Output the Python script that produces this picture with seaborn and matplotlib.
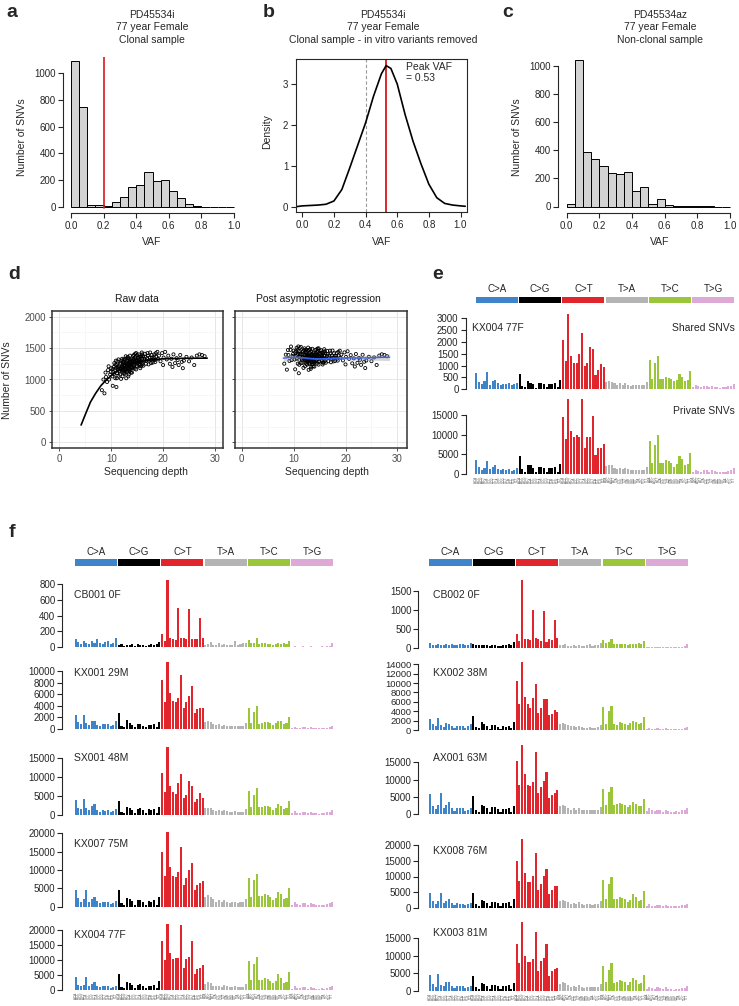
import numpy as np
import pandas as pd
import matplotlib
matplotlib.use('Agg')
import matplotlib.pyplot as plt
import seaborn as sns

W, H = 739, 1006

# ---------------- data ----------------
vaf_edges = [round(0.05 * i, 2) for i in range(21)]
counts_a = [1090, 745, 15, 12, 10, 35, 75, 148, 165, 262, 192, 205, 120, 70, 25, 6, 3, 2, 1, 0]
counts_c = [20, 1040, 390, 335, 290, 237, 233, 242, 110, 140, 20, 50, 10, 6, 4, 3, 2, 1, 0, 0]
clonal_cutoff = 0.2

dens_x = [-0.04, 0.0, 0.05, 0.1, 0.15, 0.2, 0.25, 0.3, 0.35, 0.4, 0.45, 0.5, 0.53, 0.56,
          0.6, 0.65, 0.7, 0.75, 0.8, 0.85, 0.9, 0.95, 1.0, 1.03]
dens_y = [0.0, 0.02, 0.03, 0.04, 0.06, 0.14, 0.42, 0.95, 1.5, 2.05, 2.7, 3.25, 3.45, 3.38,
          3.0, 2.25, 1.6, 1.05, 0.55, 0.22, 0.08, 0.04, 0.02, 0.01]
peak_vaf = 0.53
dashed_vaf = 0.4

depth_raw = [8.2, 8.7, 9.0, 8.9, 9.4, 9.6, 10.3, 11.0, 9.8, 9.2, 10.0, 8.5, 9.9, 9.5,
             10.2, 10.4, 10.5, 10.6, 10.7, 10.8, 10.9, 11.0, 11.1, 11.2, 11.3, 11.4, 11.5, 11.6, 11.7, 11.8,
             11.9, 12.0, 10.3, 10.6, 10.9, 11.2, 11.5, 11.8, 11.1, 11.4, 11.7, 10.8, 11.3, 11.9,
             12.1, 12.2, 12.3, 12.4, 12.5, 12.6, 12.7, 12.8, 12.9, 13.0, 13.1, 13.2, 13.3, 13.4, 13.5, 13.6,
             13.7, 13.8, 13.9, 14.0, 12.1, 12.2, 12.3, 12.4, 12.5, 12.6, 12.7, 12.8, 12.9, 13.0, 13.1, 13.2,
             13.3, 13.4, 13.5, 13.6, 13.7, 13.8, 13.9, 14.0, 12.2, 12.4, 12.6, 12.8, 13.0, 13.2, 13.4, 13.6,
             13.8, 14.0, 12.3, 12.5, 12.7, 12.9, 13.1, 13.3, 13.5, 13.7, 13.9, 12.0,
             14.1, 14.2, 14.3, 14.4, 14.5, 14.6, 14.7, 14.8, 14.9, 15.0, 15.1, 15.2, 15.3, 15.4, 15.5, 15.6,
             15.7, 15.8, 15.9, 16.0, 14.1, 14.3, 14.5, 14.7, 14.9, 15.1, 15.3, 15.5, 15.7, 15.9, 14.2, 14.4,
             14.6, 14.8, 15.0, 15.2, 15.4, 15.6, 15.8, 16.0, 14.6, 15.0, 15.4, 14.4, 15.8,
             16.1, 16.3, 16.5, 16.7, 16.9, 17.1, 17.3, 17.5, 17.7, 17.9, 18.1, 18.3, 18.5, 18.7, 18.9, 16.2,
             16.4, 16.6, 16.8, 17.0, 17.2, 17.4, 17.6, 17.8, 18.0, 18.2, 18.4, 18.6, 19.0, 16.0,
             19.2, 19.5, 19.8, 20.1, 20.4, 20.7, 21.0, 21.3, 21.6, 22.0, 22.3, 22.6, 23.0, 23.3, 23.6, 24.0,
             24.5, 25.0, 25.5, 26.0, 26.5, 27.0, 27.5, 28.0, 20.0, 21.8, 23.8, 22.8]
snv_raw = [830, 780, 1040, 1110, 1150, 1000, 900, 880, 1080, 960, 1180, 1000, 1120, 1210,
           1050, 1120, 1200, 1260, 1150, 1020, 1180, 1230, 1100, 1290, 1160, 1060, 1210, 1130, 1250, 1180,
           1010, 1300, 1170, 1090, 1300, 1200, 1140, 1270, 1020, 1320, 1080, 1240, 1190, 1160,
           1200, 1050, 1280, 1150, 1230, 1090, 1320, 1180, 1020, 1250, 1130, 1360, 1210, 1080, 1290, 1170,
           1240, 1110, 1330, 1190, 1330, 1140, 1190, 1260, 1100, 1220, 1160, 1370, 1240, 1120, 1300, 1180,
           1050, 1270, 1220, 1380, 1140, 1260, 1200, 1300, 1230, 1320, 1160, 1260, 1340, 1250, 1160, 1280,
           1190, 1110, 1110, 1290, 1230, 1150, 1220, 1330, 1130, 1310, 1250, 1170,
           1260, 1380, 1200, 1310, 1170, 1350, 1250, 1420, 1290, 1210, 1340, 1270, 1400, 1230, 1310, 1180,
           1360, 1280, 1430, 1240, 1180, 1330, 1280, 1370, 1220, 1270, 1320, 1250, 1210, 1330, 1300, 1230,
           1410, 1160, 1390, 1340, 1360, 1290, 1380, 1330, 1290, 1300, 1280, 1390, 1220,
           1370, 1290, 1410, 1250, 1340, 1380, 1300, 1430, 1260, 1350, 1320, 1400, 1280, 1360, 1440, 1220,
           1330, 1360, 1300, 1420, 1240, 1350, 1310, 1390, 1270, 1350, 1310, 1420, 1330, 1400,
           1380, 1290, 1420, 1350, 1440, 1320, 1380, 1250, 1330, 1400, 1260, 1340, 1230, 1390, 1280, 1300,
           1360, 1290, 1350, 1230, 1380, 1400, 1390, 1370, 1230, 1200, 1180, 1310]

# asymptotic regression fit
fit_x = [4.2, 5, 6, 7, 8, 9, 10, 11, 12, 13, 14, 16, 18, 20, 24, 28.5]
fit_y = [275, 440, 640, 780, 900, 990, 1060, 1120, 1170, 1210, 1245, 1290, 1315, 1330, 1338, 1340]

# loess smooth on corrected data
loess_x = [8, 10, 12, 14, 16, 18, 20, 22, 24, 26, 28.5]
loess_y = [1340, 1355, 1345, 1330, 1330, 1338, 1345, 1342, 1345, 1350, 1355]
loess_se = [55, 28, 15, 12, 14, 20, 26, 32, 38, 44, 52]

mut_types = ['C>A', 'C>G', 'C>T', 'T>A', 'T>C', 'T>G']
type_colors = {'C>A': '#3F84C8', 'C>G': '#000000', 'C>T': '#E0262C',
               'T>A': '#B4B4B4', 'T>C': '#9BC63B', 'T>G': '#DDA9D6'}
bases = ['A', 'C', 'G', 'T']
contexts = [a + m[0] + b for m in mut_types for a in bases for b in bases]

e_shared = [680, 320, 220, 330, 740, 200, 350, 400, 260, 190, 230, 210, 260, 170, 220, 270,
            650, 150, 80, 340, 280, 220, 70, 270, 260, 210, 80, 230, 210, 260, 90, 380,
            2100, 1200, 3200, 1400, 1100, 1100, 1500, 2400, 980, 1100, 1800, 1700, 600, 800, 1050, 950,
            300, 360, 320, 260, 200, 250, 190, 250, 190, 160, 170, 190, 170, 180, 180, 300,
            1250, 430, 1100, 1400, 420, 450, 520, 480, 430, 330, 380, 640, 500, 370, 380, 760,
            80, 190, 120, 90, 160, 140, 80, 160, 110, 80, 70, 100, 80, 120, 140, 220]
e_private = [3600, 1700, 1100, 1600, 3400, 1300, 1900, 2200, 1300, 900, 1200, 1000, 1200, 700, 1000, 1400,
             4500, 1200, 600, 2400, 2300, 1600, 500, 1900, 1800, 1400, 500, 1500, 1500, 1700, 600, 2600,
             14500, 8800, 19000, 11000, 9400, 9800, 9400, 19000, 6500, 9300, 9300, 14700, 4800, 6500, 6500, 7600,
             2000, 2300, 2200, 1600, 1300, 1500, 1200, 1600, 1200, 1000, 1000, 1100, 1000, 1100, 1000, 1800,
             8500, 2800, 7500, 9900, 2700, 2900, 3500, 3200, 2800, 1900, 2500, 4700, 3700, 2300, 2500, 5300,
             500, 1100, 800, 600, 1000, 900, 500, 1000, 700, 500, 400, 600, 500, 800, 900, 1400]
cb001 = [100, 65, 40, 85, 60, 45, 75, 50, 110, 60, 40, 70, 80, 45, 60, 120,
         30, 40, 20, 35, 30, 45, 20, 40, 30, 25, 15, 35, 40, 35, 40, 70,
         170, 85, 850, 120, 110, 90, 500, 120, 120, 100, 480, 100, 110, 110, 370, 120,
         35, 45, 65, 30, 30, 50, 35, 40, 35, 30, 35, 80, 30, 40, 55, 60,
         90, 60, 50, 120, 40, 60, 50, 40, 45, 30, 40, 50, 45, 50, 45, 80,
         10, 15, 10, 5, 15, 10, 8, 12, 10, 8, 10, 12, 10, 15, 20, 60]
kx001 = [2400, 1200, 900, 2500, 1000, 700, 1400, 1300, 700, 500, 900, 800, 800, 500, 700, 1300,
         2700, 600, 400, 1500, 1100, 700, 300, 900, 800, 600, 300, 700, 700, 900, 400, 1200,
         8500, 4600, 11500, 6200, 4800, 4700, 5400, 9300, 3600, 4600, 5700, 7400, 2700, 3400, 3700, 3700,
         1200, 1300, 1200, 900, 700, 800, 600, 700, 600, 500, 500, 600, 500, 500, 600, 1000,
         3700, 1000, 3000, 3900, 900, 1100, 1200, 1200, 1000, 700, 1000, 1400, 1300, 900, 1100, 2000,
         200, 400, 250, 200, 300, 300, 150, 300, 200, 150, 150, 200, 200, 250, 300, 450]
sx001 = [4000, 1800, 1500, 4300, 1800, 1200, 2400, 2800, 1300, 900, 1300, 1100, 1300, 800, 1100, 1500,
         3600, 900, 600, 2000, 1800, 1300, 500, 1700, 1800, 1300, 500, 1600, 1400, 1600, 600, 2200,
         11200, 6200, 18000, 7800, 6000, 5600, 8400, 10800, 4500, 5400, 9100, 7800, 3500, 4200, 5900, 4600,
         1800, 1900, 1800, 1400, 1000, 1300, 1000, 1300, 1000, 800, 900, 1000, 800, 900, 900, 1600,
         6300, 2000, 5300, 7200, 2000, 2100, 2400, 2300, 2000, 1400, 1900, 2800, 2300, 1700, 1900, 3700,
         400, 1000, 600, 400, 800, 700, 400, 800, 500, 400, 300, 500, 400, 700, 800, 1200]
kx007 = [4500, 2300, 1300, 2200, 4500, 1400, 2000, 2700, 1500, 900, 1400, 1300, 1300, 700, 1100, 1500,
         4500, 1100, 600, 2400, 2100, 1500, 500, 1700, 1900, 1400, 500, 1500, 1400, 1700, 600, 2600,
         14800, 8300, 20500, 10700, 8400, 8000, 9500, 16300, 5900, 7800, 9900, 11800, 4600, 5800, 6400, 7000,
         2700, 3300, 2700, 2000, 1300, 1700, 1300, 1800, 1300, 1100, 1200, 1300, 1100, 1200, 1200, 2200,
         7900, 2700, 7300, 8800, 2800, 2800, 3400, 3100, 2600, 1900, 2500, 4100, 3500, 2200, 2500, 5000,
         500, 1300, 800, 600, 1100, 900, 500, 1100, 700, 500, 400, 600, 500, 800, 900, 1400]
kx004 = [4300, 1700, 1200, 1800, 4300, 1300, 2000, 2600, 1500, 900, 1400, 1200, 1400, 800, 1100, 1500,
         5200, 1100, 700, 2600, 2400, 1600, 600, 1700, 2000, 1500, 700, 1500, 1500, 1700, 600, 3000,
         16500, 10000, 22000, 12300, 10500, 10700, 10800, 21800, 7500, 10300, 11000, 16500, 5300, 7200, 7400, 8500,
         2000, 2600, 2300, 1500, 1300, 1500, 1100, 1700, 1300, 1000, 1100, 1200, 1000, 1100, 1000, 2000,
         9800, 3300, 8600, 11200, 3200, 3400, 4000, 3700, 3100, 2200, 3000, 5200, 4000, 2500, 2700, 6000,
         500, 1200, 800, 600, 1000, 900, 500, 1000, 700, 500, 400, 600, 500, 800, 900, 1400]
cb002 = [130, 80, 60, 90, 70, 60, 90, 70, 110, 70, 60, 90, 100, 70, 80, 120,
         100, 70, 60, 80, 70, 60, 50, 70, 60, 50, 40, 60, 80, 90, 80, 160,
         350, 180, 1800, 230, 230, 200, 1000, 250, 230, 180, 960, 160, 220, 200, 730, 250,
         60, 70, 90, 50, 50, 70, 50, 60, 50, 50, 60, 100, 50, 60, 80, 120,
         200, 120, 150, 220, 100, 110, 100, 110, 90, 80, 100, 110, 100, 120, 100, 190,
         20, 25, 20, 15, 25, 20, 15, 20, 20, 15, 20, 25, 20, 30, 40, 110]
kx002 = [2400, 1200, 900, 2500, 1000, 700, 1400, 1300, 800, 500, 900, 800, 800, 500, 800, 1200,
         3000, 700, 400, 1600, 1300, 900, 300, 1100, 1000, 700, 300, 900, 700, 900, 400, 1700,
         10500, 5500, 14500, 7000, 5500, 4600, 6900, 9800, 3700, 4700, 6600, 6500, 3100, 3500, 4300, 3900,
         1300, 1400, 1300, 1000, 800, 900, 700, 800, 600, 500, 500, 600, 500, 500, 600, 1000,
         5000, 1300, 4000, 5100, 1300, 1000, 1600, 1500, 1300, 1000, 1500, 1900, 1800, 1300, 1500, 2700,
         200, 400, 250, 200, 350, 300, 150, 350, 250, 150, 150, 200, 200, 300, 350, 550]
ax001 = [5800, 2300, 1400, 2700, 6000, 1800, 2600, 3400, 1800, 1000, 1700, 1700, 1600, 900, 1300, 1800,
         5200, 1300, 700, 2700, 2200, 1700, 600, 1900, 1900, 1500, 600, 1500, 1400, 1800, 700, 2400,
         15500, 8500, 20000, 11500, 8400, 8000, 9200, 18000, 6100, 7800, 9600, 12300, 4700, 5500, 6100, 6900,
         2400, 2500, 2300, 1800, 1300, 1700, 1300, 1700, 1200, 1100, 1200, 1300, 1100, 1200, 1200, 2100,
         7200, 2600, 6400, 7800, 2600, 2800, 3100, 2900, 2500, 1900, 2500, 3500, 3000, 2400, 2200, 4400,
         800, 1600, 1200, 900, 1300, 1200, 700, 1300, 900, 700, 600, 800, 700, 1100, 1200, 1700]
kx008 = [4800, 2000, 1300, 2300, 4600, 1600, 2200, 2700, 1600, 900, 1400, 1300, 1300, 800, 1100, 1500,
         4800, 1200, 700, 2500, 2100, 1600, 600, 1800, 1800, 1400, 600, 1500, 1400, 1700, 700, 2700,
         15000, 8600, 22000, 11000, 8300, 8100, 10200, 17400, 5800, 7700, 10200, 12300, 4300, 5700, 6900, 7000,
         2300, 2500, 2300, 1700, 1300, 1600, 1200, 1700, 1200, 1000, 1100, 1200, 1000, 1200, 1100, 2000,
         9000, 2800, 7700, 9800, 2900, 2900, 3500, 3200, 2800, 1900, 2600, 4400, 3400, 2200, 2500, 5200,
         500, 1100, 700, 500, 1000, 800, 500, 1000, 700, 500, 400, 600, 500, 800, 900, 1300]
kx003 = [4500, 2100, 1200, 4800, 1800, 1300, 2600, 2700, 1400, 900, 1500, 1300, 1300, 800, 1100, 1500,
         4300, 1100, 600, 2300, 1900, 1500, 500, 1700, 1700, 1300, 500, 1400, 1300, 1600, 600, 2400,
         13300, 7900, 19500, 10100, 8200, 8300, 9200, 16800, 5800, 8600, 9500, 13300, 4200, 5800, 6300, 6600,
         2000, 2500, 2200, 1600, 1200, 1500, 1200, 1600, 1100, 900, 1100, 1200, 1000, 1100, 1100, 2000,
         7200, 2600, 6000, 8100, 2400, 2600, 3000, 2900, 2500, 1800, 2500, 3600, 3100, 2100, 2300, 4600,
         500, 1200, 800, 500, 1000, 900, 500, 1000, 700, 500, 400, 600, 500, 800, 900, 1400]

# ---------------- helpers ----------------
sns.set_style('ticks')
plt.rcParams['font.family'] = ['Liberation Sans', 'DejaVu Sans']
plt.rcParams['axes.linewidth'] = 0.8

fig = plt.figure(figsize=(W / 100, H / 100), dpi=100)


def new_ax(box):
    x0, y0, x1, y1 = box
    return fig.add_axes([x0 / W, 1 - y1 / H, (x1 - x0) / W, (y1 - y0) / H])


def set_lims(ax, box, xcal, ycal):
    x0, y0, x1, y1 = box
    d0, p0, d1, p1 = xcal
    s = (d1 - d0) / (p1 - p0)
    ax.set_xlim(d0 + (x0 - p0) * s, d0 + (x1 - p0) * s)
    d0, p0, d1, p1 = ycal
    s = (d1 - d0) / (p1 - p0)
    ax.set_ylim(d0 + (y1 - p0) * s, d0 + (y0 - p0) * s)


def ftext(x, y, s, **kw):
    kw.setdefault('ha', 'center')
    kw.setdefault('va', 'center')
    kw.setdefault('fontsize', 7.5)
    fig.text(x / W, 1 - y / H, s, **kw)


def letter(x, y, s):
    fig.text(x / W, 1 - y / H, s, fontsize=14, fontweight='bold', ha='left', va='baseline')


def r_style(ax, xb, yb):
    sns.despine(ax=ax)
    ax.spines['left'].set_bounds(*yb)
    ax.spines['bottom'].set_bounds(*xb)
    ax.tick_params(direction='out', length=3.5, width=0.8, labelsize=7, pad=2)
    ax.set_xlabel('')
    ax.set_ylabel('')


def hist_panel(box, xcal, ycal, counts, yticks, title_x, titles, ylab_x, letter_xy):
    ax = new_ax(box)
    mids = [(a + b) / 2 for a, b in zip(vaf_edges[:-1], vaf_edges[1:])]
    hdf = pd.DataFrame({'vaf': mids, 'n': counts})
    sns.histplot(data=hdf, x='vaf', weights='n', bins=vaf_edges, color='#d3d3d3',
                 edgecolor='black', linewidth=0.7, alpha=1, ax=ax)
    set_lims(ax, box, xcal, ycal)
    ticks = [0, 0.2, 0.4, 0.6, 0.8, 1.0]
    ax.set_xticks(ticks)
    ax.set_xticklabels(['%.1f' % v for v in ticks])
    ax.set_yticks(yticks)
    r_style(ax, (0, 1), (0, yticks[-1]))
    for t, yy in zip(titles, [15, 27.3, 40]):
        ftext(title_x, yy, t)
    ftext(title_x, 241.7, 'VAF')
    ftext(ylab_x, 137, 'Number of SNVs', rotation=90)
    letter(*letter_xy)
    return ax


# ---------------- panel a ----------------
box_a = (63.3, 57, 241, 213)
ax_a = hist_panel(box_a, (0, 71, 1, 234), (0, 207, 1000, 73), counts_a, [0, 200, 400, 600, 800, 1000],
                  152, ['PD45534i', '77 year Female', 'Clonal sample'], 21.7, (6.5, 17, 'a'))
ax_a.axvline(clonal_cutoff, ymin=0.03, color='#d7191c', lw=1.2)

# ---------------- panel c ----------------
box_c = (558.3, 55, 737, 213)
hist_panel(box_c, (0, 566.7, 1, 730), (0, 206.5, 1000, 65.7), counts_c, [0, 200, 400, 600, 800, 1000],
           660, ['PD45534az', '77 year Female', 'Non-clonal sample'], 516.7, (502.7, 16.7, 'c'))

# ---------------- panel b ----------------
box_b = (296, 59.3, 466.7, 212.3)
ax_b = new_ax(box_b)
ax_b.axvline(dashed_vaf, color='#999999', lw=0.8, ls=(0, (3, 2)))
ax_b.axvline(peak_vaf, color='#d7191c', lw=1.3)
sns.lineplot(x=dens_x, y=dens_y, color='black', lw=1.2, ax=ax_b)
set_lims(ax_b, box_b, (0, 302.3, 1, 460.5), (0, 206.7, 3, 84))
ticks_b = [0, 0.2, 0.4, 0.6, 0.8, 1.0]
ax_b.set_xticks(ticks_b)
ax_b.set_xticklabels(['%.1f' % v for v in ticks_b])
ax_b.set_yticks([0, 1, 2, 3])
ax_b.tick_params(direction='out', length=3.5, width=0.8, labelsize=7, pad=2)
for sp in ax_b.spines.values():
    sp.set_linewidth(0.8)
ax_b.text(0.655, 3.02, 'Peak VAF\n= %.2f' % peak_vaf, fontsize=7.5, ha='left', va='bottom', linespacing=1.2)
for t, yy in zip(['PD45534i', '77 year Female', 'Clonal sample - in vitro variants removed'], [15, 27.3, 40]):
    ftext(383, yy, t)
ftext(381.7, 241.7, 'VAF')
ftext(266.7, 131.7, 'Density', rotation=90)
letter(262.7, 16.7, 'b')

# ---------------- panel d ----------------
fit_at_pts = np.interp(depth_raw, fit_x, fit_y)
snv_post = np.array(snv_raw) - fit_at_pts + fit_y[-1]


def gg_panel(box):
    ax = new_ax(box)
    ax.set_facecolor('white')
    ax.set_axisbelow(True)
    ax.set_xticks([0, 10, 20, 30])
    ax.set_xticks([5, 15, 25], minor=True)
    ax.set_yticks([0, 500, 1000, 1500, 2000])
    ax.set_yticks([250, 750, 1250, 1750], minor=True)
    ax.grid(True, which='major', color='#e6e6e6', lw=0.7)
    ax.grid(True, which='minor', color='#f2f2f2', lw=0.4)
    for sp in ax.spines.values():
        sp.set_visible(True)
        sp.set_color('#333333')
        sp.set_linewidth(1.1)
    ax.tick_params(which='major', direction='out', length=2.5, width=0.6, color='#333333',
                   labelsize=7, labelcolor='#4d4d4d', pad=2)
    ax.tick_params(which='minor', length=0)
    return ax


box_d1 = (52.3, 311, 223.3, 448)
ax_d1 = gg_panel(box_d1)
sns.scatterplot(x=depth_raw, y=snv_raw, s=5, marker='o', facecolor='none', edgecolor='black',
                linewidth=0.6, ax=ax_d1)
sns.lineplot(x=fit_x, y=fit_y, color='black', lw=1.2, ax=ax_d1)
set_lims(ax_d1, box_d1, (0, 59.3, 30, 215), (0, 442.3, 2000, 316.7))
ax_d1.set_xlabel('')
ax_d1.set_ylabel('')

box_d2 = (235, 311, 406.5, 448)
ax_d2 = gg_panel(box_d2)
sns.scatterplot(x=depth_raw, y=snv_post, s=5, marker='o', facecolor='none', edgecolor='black',
                linewidth=0.6, ax=ax_d2)
ax_d2.fill_between(loess_x, np.array(loess_y) - np.array(loess_se), np.array(loess_y) + np.array(loess_se),
                   color='#999999', alpha=0.4, lw=0)
sns.lineplot(x=loess_x, y=loess_y, color='#3366FF', lw=1.0, ax=ax_d2)
set_lims(ax_d2, box_d2, (0, 241.7, 30, 397.4), (0, 442.3, 2000, 316.7))
ax_d2.set_yticklabels([])
ax_d2.set_xlabel('')
ax_d2.set_ylabel('')

ftext(137, 299, 'Raw data', color='#1a1a1a')
ftext(318, 299, 'Post asymptotic regression', color='#1a1a1a')
ftext(146, 472.3, 'Sequencing depth')
ftext(327, 472.3, 'Sequencing depth')
ftext(7, 380, 'Number of SNVs', rotation=90)
letter(8.3, 279.3, 'd')

# ---------------- signature panels ----------------
bar_types = np.repeat(mut_types, 16)


def type_strip(box, label_y):
    ax = new_ax(box)
    for i, m in enumerate(mut_types):
        ax.bar(i * 16 + 7.5, 1, width=15.6, color=type_colors[m], lw=0)
    ax.set_xlim(-0.5, 95.5)
    ax.set_ylim(0, 1)
    ax.axis('off')
    x0, y0, x1, y1 = box
    for i, m in enumerate(mut_types):
        xp = x0 + (i * 16 + 8) / 96 * (x1 - x0)
        ftext(xp, label_y, m, fontsize=7)


def signature(box, xcal, ycal, values, yticks, name, name_xy, show_contexts=False, tick_fs=7):
    ax = new_ax(box)
    df = pd.DataFrame({'pos': np.arange(96), 'count': values, 'type': bar_types})
    sns.barplot(data=df, x='pos', y='count', hue='type', palette=type_colors, dodge=False,
                width=0.76, saturation=1, legend=False, errorbar=None, ax=ax,
                edgecolor='none', linewidth=0)
    set_lims(ax, box, xcal, ycal)
    for s in ['top', 'right', 'bottom']:
        ax.spines[s].set_visible(False)
    ax.spines['left'].set_bounds(0, yticks[-1])
    ax.spines['left'].set_linewidth(0.8)
    ax.set_yticks(yticks)
    ax.tick_params(axis='y', direction='out', length=3.5, width=0.8, labelsize=tick_fs, pad=1.5)
    ax.set_xlabel('')
    ax.set_ylabel('')
    if show_contexts:
        ax.set_xticks(np.arange(96))
        ax.set_xticklabels(contexts, rotation=90, fontsize=2.2, color='#555555')
        ax.tick_params(axis='x', length=0, pad=2)
    else:
        ax.set_xticks([])
    if name:
        ftext(name_xy[0], name_xy[1], name, ha='left', fontsize=7.5)
    return ax


# panel e
xcal_e = (-0.5, 475, 95.5, 735)
type_strip((475, 296.7, 735, 303.3), 289)
signature((465.5, 312, 736, 389.3), xcal_e, (0, 389.3, 3000, 318.3), e_shared,
          [0, 500, 1000, 1500, 2000, 2500, 3000], 'KX004 77F', (472, 328))
signature((465.5, 397, 736, 474), xcal_e, (0, 474, 15000, 415), e_private,
          [0, 5000, 10000, 15000], '', (472, 411), show_contexts=True)
ftext(735, 328, 'Shared SNVs', ha='right')
ftext(735, 411, 'Private SNVs', ha='right')
letter(432.7, 279.3, 'e')

# panel f
letter(8.3, 536.7, 'f')
xcal_fl = (-0.5, 74.2, 95.5, 333.8)
xcal_fr = (-0.5, 428.8, 95.5, 688.6)
type_strip((74.2, 559, 333.8, 565.7), 552)
type_strip((428.8, 559, 688.6, 565.7), 552)

sl = 62.3
signature((sl, 578, 335, 647.3), xcal_fl, (0, 647.3, 800, 584), cb001,
          [0, 200, 400, 600, 800], 'CB001 0F', (74, 595))
signature((sl, 660, 335, 729), xcal_fl, (0, 729, 10000, 671), kx001,
          [0, 2000, 4000, 6000, 8000, 10000], 'KX001 29M', (74, 673))
signature((sl, 745, 335, 815), xcal_fl, (0, 815, 15000, 758.3), sx001,
          [0, 5000, 10000, 15000], 'SX001 48M', (74, 758))
signature((sl, 828, 335, 906.7), xcal_fl, (0, 906.7, 20000, 833.4), kx007,
          [0, 5000, 10000, 15000, 20000], 'KX007 75M', (74, 844))
signature((sl, 922, 335, 990), xcal_fl, (0, 990, 20000, 930.3), kx004,
          [0, 5000, 10000, 15000, 20000], 'KX004 77F', (74, 935), show_contexts=True)

sr = 418.3
signature((sr, 578, 690, 647.7), xcal_fr, (0, 647.7, 1500, 591), cb002,
          [0, 500, 1000, 1500], 'CB002 0F', (433.3, 595))
signature((sr, 660, 690, 730), xcal_fr, (0, 730, 14000, 664.3), kx002,
          list(range(0, 14001, 2000)), 'KX002 38M', (433.3, 672.7), tick_fs=6.8)
signature((sr, 742, 690, 814), xcal_fr, (0, 814, 15000, 762.3), ax001,
          [0, 5000, 10000, 15000], 'AX001 63M', (433.3, 758.3))
signature((sr, 836, 690, 907.7), xcal_fr, (0, 907.7, 20000, 845.3), kx008,
          [0, 5000, 10000, 15000, 20000], 'KX008 76M', (433.3, 850.7))
signature((sr, 920, 690, 991), xcal_fr, (0, 991, 15000, 938.3), kx003,
          [0, 5000, 10000, 15000], 'KX003 81M', (433.3, 933.3), show_contexts=True)

fig.savefig('out.png', dpi=100)
